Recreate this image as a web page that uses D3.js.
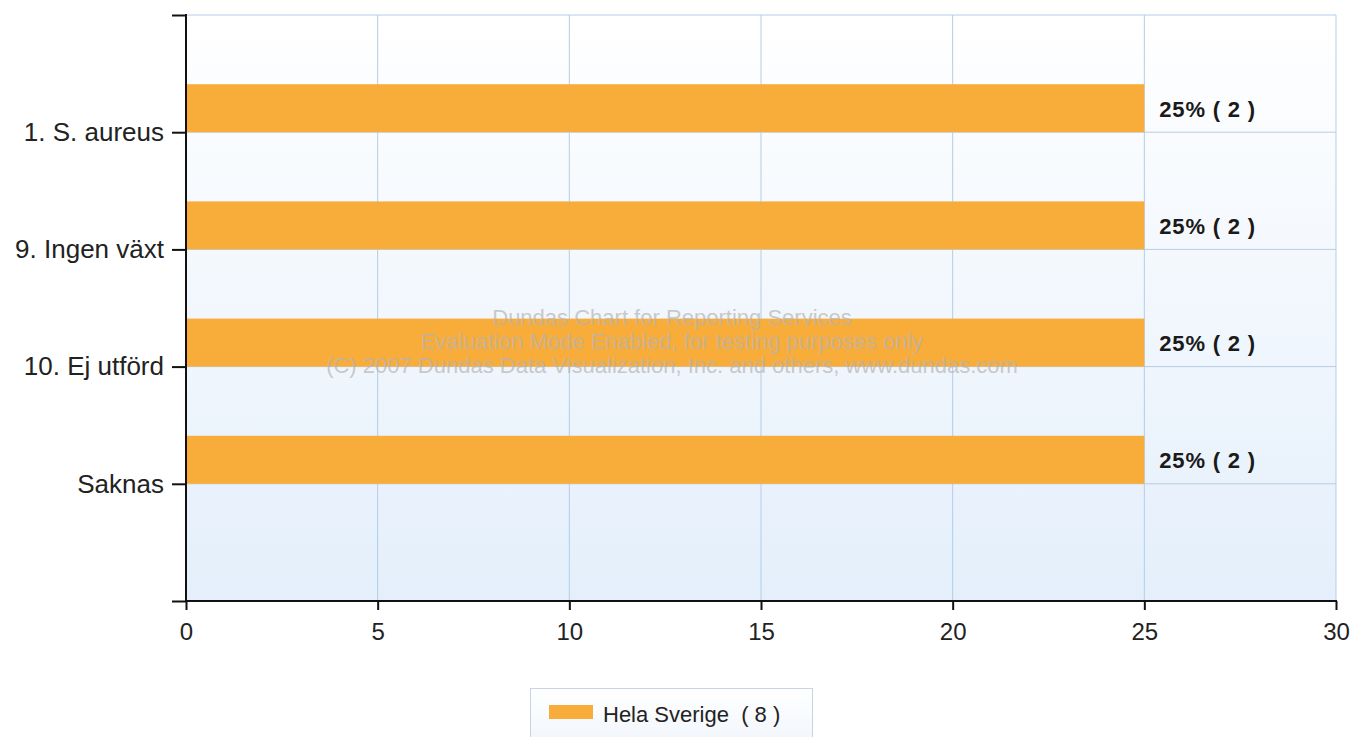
<!DOCTYPE html>
<html><head><meta charset="utf-8">
<script src="https://cdn.jsdelivr.net/npm/d3@7"></script>
<style>
html,body{margin:0;padding:0;background:#fff;}
svg{display:block;}
</style></head>
<body>
<svg id="chart" width="1356" height="737"></svg>
<script>
const categories = ["1. S. aureus", "9. Ingen växt", "10. Ej utförd", "Saknas"];
const percentValues = [25, 25, 25, 25];
const counts = [2, 2, 2, 2];
const xTicks = [0, 5, 10, 15, 20, 25, 30];
const seriesName = "Hela Sverige";
const seriesTotal = 8;
const watermark = [
  "Dundas Chart for Reporting Services",
  "Evaluation Mode Enabled, for testing purposes only",
  "(C) 2007 Dundas Data Visualization, Inc. and others, www.dundas.com"
];

const svg = d3.select("#chart");
const L = 186, R = 1336, T = 15, B = 601;
const x = d3.scaleLinear().domain([0, 30]).range([L, R]);
const y = d3.scaleLinear().domain([0, categories.length + 1]).range([T, B]);
const barColor = "#f8ad3b";
const gridColor = "#b4cde8";
const FONT = "Liberation Sans, Arial, sans-serif";

const defs = svg.append("defs");
const grad = defs.append("linearGradient").attr("id", "bg").attr("x1", 0).attr("y1", 0).attr("x2", 0).attr("y2", 1);
grad.append("stop").attr("offset", "0%").attr("stop-color", "#ffffff");
grad.append("stop").attr("offset", "100%").attr("stop-color", "#e4effb");

svg.append("rect").attr("x", L).attr("y", T).attr("width", R - L).attr("height", B - T).attr("fill", "url(#bg)");

// grid
const g = svg.append("g");
g.selectAll(".vg").data(xTicks).enter().append("line")
  .attr("x1", d => x(d)).attr("x2", d => x(d)).attr("y1", T).attr("y2", B)
  .attr("stroke", gridColor).attr("stroke-width", 1);
g.selectAll(".hg").data(d3.range(0, categories.length + 2)).enter().append("line")
  .attr("x1", L).attr("x2", R).attr("y1", d => y(d)).attr("y2", d => y(d))
  .attr("stroke", gridColor).attr("stroke-width", 1);

// bars
const barH = 48;
svg.selectAll(".bar").data(categories).enter().append("rect")
  .attr("x", x(0)).attr("y", (d, i) => y(i + 1) - barH)
  .attr("width", (d, i) => x(percentValues[i]) - x(0)).attr("height", barH)
  .attr("fill", barColor);

// watermark
svg.selectAll(".wm").data(watermark).enter().append("text")
  .attr("x", 672).attr("y", (d, i) => 317 + i * 24)
  .attr("text-anchor", "middle").attr("dominant-baseline", "central")
  .attr("font-family", FONT).attr("font-size", 22)
  .attr("fill", "#b4b4b4").attr("fill-opacity", 0.7)
  .text(d => d);

// bar labels
svg.selectAll(".lbl").data(categories).enter().append("text")
  .attr("x", (d, i) => x(percentValues[i]) + 15).attr("y", (d, i) => y(i + 1) - barH / 2 + 1)
  .attr("dominant-baseline", "central")
  .attr("font-family", FONT).attr("font-weight", "bold")
  .attr("font-size", 22).attr("letter-spacing", "0.8px").attr("fill", "#1a1a1a")
  .attr("xml:space", "preserve")
  .text((d, i) => percentValues[i] + "% ( " + counts[i] + " )");

// axes
const xAxis = d3.axisBottom(x).tickValues(xTicks).tickSize(9).tickPadding(13).tickFormat(d3.format("d"));
const xg = svg.append("g").attr("transform", `translate(0,${B})`).call(xAxis);
xg.select(".domain").remove();
xg.selectAll(".tick line").attr("stroke", "#111").attr("stroke-width", 2);
xg.selectAll("text").attr("font-family", FONT).attr("font-size", 24).attr("fill", "#222");

const yAxis = d3.axisLeft(y).tickValues(d3.range(0, categories.length + 2)).tickSize(14).tickPadding(8)
  .tickFormat(d => (d >= 1 && d <= categories.length) ? categories[d - 1] : "");
const yg = svg.append("g").attr("transform", `translate(${L},0)`).call(yAxis);
yg.select(".domain").remove();
yg.selectAll(".tick line").attr("stroke", "#111").attr("stroke-width", 2);
yg.selectAll("text").attr("font-family", FONT).attr("font-size", 26).attr("fill", "#222");

svg.append("line").attr("x1", L).attr("x2", L).attr("y1", T - 1).attr("y2", B + 1).attr("stroke", "#111").attr("stroke-width", 2);
svg.append("line").attr("x1", L - 1).attr("x2", R + 1).attr("y1", B).attr("y2", B).attr("stroke", "#111").attr("stroke-width", 2);

// legend
const lg = defs.append("linearGradient").attr("id", "lgbg").attr("x1", 0).attr("y1", 0).attr("x2", 0).attr("y2", 1);
lg.append("stop").attr("offset", "0%").attr("stop-color", "#ffffff");
lg.append("stop").attr("offset", "100%").attr("stop-color", "#f0f5fb");
svg.append("rect").attr("x", 530.5).attr("y", 688.5).attr("width", 282).attr("height", 60)
  .attr("fill", "url(#lgbg)").attr("stroke", "#c5d5e6").attr("stroke-width", 1);
svg.append("rect").attr("x", 549).attr("y", 705).attr("width", 44).attr("height", 14).attr("fill", barColor);
svg.append("text").attr("x", 603).attr("y", 714).attr("dominant-baseline", "central")
  .attr("font-family", FONT).attr("font-size", 22).attr("fill", "#222")
  .attr("xml:space", "preserve")
  .text(seriesName + "  ( " + seriesTotal + " )");
</script>
</body></html>
